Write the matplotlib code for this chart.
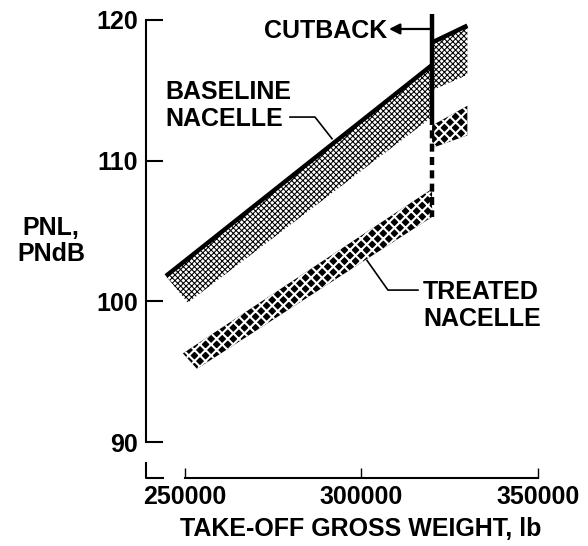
import numpy as np
import matplotlib
matplotlib.use("Agg")
import matplotlib.pyplot as plt

# ---- values ----------------------------------------------------------------
# baseline nacelle, before cutback: upper / lower edge of the band
BASE_UP_X = [244600, 320000]
BASE_UP_Y = [101.8, 116.8]
BASE_LO_X = [250800, 320000]
BASE_LO_Y = [99.9, 113.1]
# baseline nacelle, after cutback
BASE_CB_X = [320000, 330000]
BASE_CB_UP = [118.4, 119.6]
BASE_CB_LO = [115.0, 116.1]

# treated nacelle, before cutback
TREAT_UP_X = [249400, 320000]
TREAT_UP_Y = [96.3, 108.0]
TREAT_LO_X = [253400, 320000]
TREAT_LO_Y = [95.2, 106.0]
# treated nacelle, after cutback
TREAT_CB_X = [320000, 330000]
TREAT_CB_UP = [112.5, 113.9]
TREAT_CB_LO = [110.9, 111.8]

CUTBACK_X = 320000
CUTBACK_TOP = 120.4

X_TICKS = [250000, 300000, 350000]
Y_TICKS = [90, 100, 110, 120]

# ---- style -------------------------------------------------------------------
plt.rcParams.update({"font.family": ["Liberation Sans", "DejaVu Sans"],
                     "font.weight": "bold", "axes.labelweight": "bold",
                     "font.size": 18, "hatch.linewidth": 0.75})
INK = "black"

fig = plt.figure(figsize=(5.88, 5.46), dpi=100)
ax = fig.add_axes([0.2483, 0.1245, 0.7296, 0.8572])
ax.set_xlim(238950, 360500)
ax.set_ylim(87.44, 120.71)


def band(ux, uy, lx, ly, face, hatch_col, hatch, hlw):
    xs = list(ux) + list(lx)[::-1]
    ys = list(uy) + list(ly)[::-1]
    p = ax.fill(xs, ys, facecolor=face, edgecolor=hatch_col, hatch=hatch,
                lw=0, zorder=2)[0]
    if hasattr(p, "set_hatch_linewidth"):
        p.set_hatch_linewidth(hlw)
    return p


# bands: fine grey crosshatch for baseline, coarse black dots for treated
band(BASE_UP_X, BASE_UP_Y, BASE_LO_X, BASE_LO_Y, "white", INK, "xxxxxx", 0.75)
band(BASE_CB_X, BASE_CB_UP, BASE_CB_X, BASE_CB_LO, "white", INK, "xxxxxx", 0.75)
band(TREAT_UP_X, TREAT_UP_Y, TREAT_LO_X, TREAT_LO_Y, "black", "white", "xxx", 1.5)
band(TREAT_CB_X, TREAT_CB_UP, TREAT_CB_X, TREAT_CB_LO, "black", "white", "xxx", 1.5)

# heavy upper edges of the baseline band
ax.plot(BASE_UP_X, BASE_UP_Y, color=INK, lw=3.2, solid_capstyle="butt", zorder=4)
ax.plot(BASE_CB_X, BASE_CB_UP, color=INK, lw=3.2, solid_capstyle="butt", zorder=4)

# cutback marker: solid through the baseline band, dashed down to treated
ax.plot([CUTBACK_X, CUTBACK_X], [CUTBACK_TOP, BASE_LO_Y[-1]], color=INK,
        lw=3.2, solid_capstyle="butt", zorder=5)
ax.plot([CUTBACK_X, CUTBACK_X], [BASE_LO_Y[-1], TREAT_LO_Y[-1]], color=INK,
        lw=3.2, dashes=(1.8, 1.2), dash_capstyle="butt", zorder=5)
ax.annotate("", xy=(307800, 119.36), xytext=(CUTBACK_X, 119.36),
            arrowprops=dict(arrowstyle="-|>", color=INK, lw=1.6,
                            mutation_scale=16, shrinkA=0, shrinkB=0), zorder=5)
ax.text(307200, 119.25, "CUTBACK", ha="right", va="center", color=INK)

# labels with leader lines
ax.text(244330, 113.9, "BASELINE\nNACELLE", ha="left", va="center",
        linespacing=1.15, color=INK)
yb = np.interp(291650, BASE_UP_X, BASE_UP_Y) + 0.4
ax.plot([279750, 286830, 291650], [113.1, 113.1, yb], color=INK, lw=1.2, zorder=3)

ax.text(317430, 99.72, "TREATED\nNACELLE", ha="left", va="center",
        linespacing=1.15, color=INK)
yt = np.interp(301560, TREAT_LO_X, TREAT_LO_Y) - 0.1
ax.plot([316000, 307500, 301560], [100.8, 100.8, yt], color=INK, lw=1.2, zorder=3)

# axes: detached spines
for s in ("top", "right"):
    ax.spines[s].set_visible(False)
ax.spines["left"].set_bounds(Y_TICKS[0], Y_TICKS[-1])
ax.spines["bottom"].set_bounds(X_TICKS[0], X_TICKS[-1])
ax.spines["left"].set_linewidth(1.5)
ax.spines["bottom"].set_linewidth(1.5)
ax.set_yticks(Y_TICKS)
ax.set_xticks(X_TICKS)
ax.set_xticklabels([str(v) for v in X_TICKS])
ax.tick_params(axis="y", direction="in", length=12, width=1.5, pad=6)
ax.tick_params(axis="x", direction="in", length=7, width=1.0, pad=5)
# little corner where the two axes would meet
ax.plot([0, 0, 0.04], [0.032, 0, 0], transform=ax.transAxes, color=INK,
        lw=1.5, clip_on=False)

ax.set_xlabel("TAKE-OFF GROSS WEIGHT, lb", labelpad=6, fontweight="bold")
fig.text(51 / 588, 1 - 241 / 546, "PNL,\nPNdB", ha="center", va="center",
         ma="center", linespacing=1.1)

fig.savefig("out.png", dpi=100)
